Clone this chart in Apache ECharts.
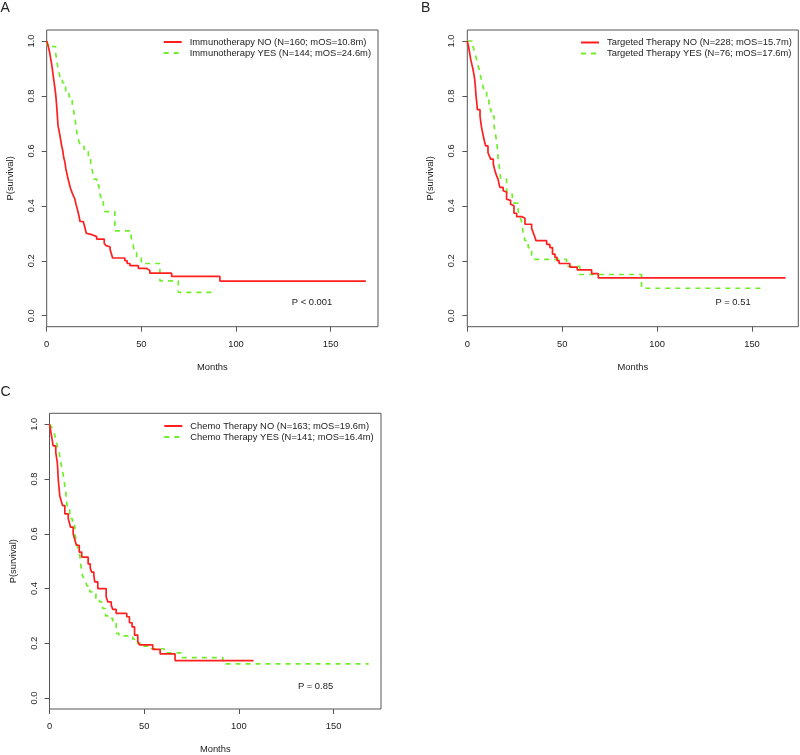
<!DOCTYPE html>
<html>
<head>
<meta charset="utf-8">
<script src="https://cdn.jsdelivr.net/npm/echarts@6/dist/echarts.min.js"></script>
<style>html,body{margin:0;padding:0;background:#fff}#c{width:800px;height:755px}</style>
</head>
<body>
<div id="c"></div>
<script>
// ---- Data (months, survival probability) ----
const immunoNo = [[0,1],[0.5,0.99],[1,0.975],[1.5,0.96],[2,0.94],[2.5,0.92],[3,0.897],[3.5,0.87],[4,0.845],[4.5,0.82],[4.9,0.795],[5.3,0.76],[5.7,0.72],[6,0.69],[6.5,0.675],[7,0.655],[7.5,0.635],[8,0.615],[8.5,0.6],[9,0.575],[9.6,0.56],[10.1,0.535],[10.6,0.52],[11.2,0.5],[11.8,0.485],[12.5,0.465],[13.4,0.448],[14.2,0.435],[14.9,0.424],[15.5,0.405],[16.2,0.388],[17,0.365],[17.6,0.343],[19.3,0.337],[20.2,0.32],[20.9,0.30],[21.4,0.294],[24.3,0.288],[26.4,0.279],[30.4,0.264],[31.2,0.256],[32,0.25],[33.5,0.24],[34.2,0.225],[34.8,0.21],[41.3,0.2],[42.5,0.19],[44,0.182],[48.4,0.172],[52.8,0.165],[54.5,0.155],[66,0.143],[91.5,0.126],[168.6,0.126]];
const immunoYes = [[0,1],[0.3,0.98],[4.7,0.957],[5.3,0.93],[6,0.897],[7,0.87],[8.3,0.848],[10,0.818],[11.8,0.797],[13.5,0.77],[14.4,0.74],[15.3,0.70],[16.2,0.655],[17,0.635],[17.9,0.618],[19.7,0.606],[22,0.58],[23.2,0.557],[24,0.53],[25,0.497],[26.5,0.475],[27.6,0.455],[28.6,0.43],[29.9,0.404],[30.8,0.379],[36,0.309],[44.6,0.285],[45.6,0.26],[46.4,0.23],[47.5,0.21],[50,0.19],[59.8,0.127],[69.5,0.085],[87.1,0.085]];
const targetNo = [[0,1],[0.5,0.985],[0.9,0.97],[1.4,0.95],[1.8,0.933],[2.4,0.915],[3,0.897],[3.5,0.878],[3.9,0.86],[4.3,0.83],[4.6,0.80],[5,0.775],[5.3,0.75],[6.7,0.727],[7,0.71],[7.4,0.69],[7.9,0.672],[8.4,0.655],[9,0.636],[9.7,0.618],[10.9,0.594],[11.6,0.582],[12.3,0.57],[13.7,0.552],[14.3,0.535],[14.9,0.52],[15.5,0.508],[16.2,0.497],[16.7,0.48],[17.2,0.467],[18.9,0.455],[19.8,0.45],[20.7,0.424],[21.6,0.42],[22.8,0.406],[23.4,0.40],[24.6,0.373],[26,0.361],[28.6,0.355],[30.4,0.333],[33.9,0.318],[34.7,0.303],[35.5,0.288],[36.2,0.273],[41.8,0.26],[43.5,0.248],[44.9,0.224],[46.2,0.212],[47.3,0.2],[48.4,0.19],[54,0.177],[57.9,0.167],[65.5,0.153],[69,0.138],[167.7,0.138]];
const targetYes = [[0,1],[2.6,0.985],[3.5,0.97],[4.2,0.95],[4.9,0.933],[5.5,0.915],[6.2,0.897],[6.8,0.878],[7.4,0.86],[8.1,0.84],[8.8,0.818],[10.2,0.788],[11.4,0.752],[12.5,0.727],[14.1,0.69],[15,0.655],[15.8,0.612],[16.3,0.57],[17,0.533],[17.6,0.497],[20.7,0.46],[21,0.443],[23.7,0.424],[24.4,0.41],[26.8,0.38],[27.6,0.365],[28.6,0.343],[29.5,0.30],[30.4,0.273],[32.1,0.248],[33.9,0.222],[34.7,0.205],[52.3,0.18],[59.3,0.15],[91.8,0.1],[155,0.1]];
const chemoNo = [[0,1],[0.5,0.98],[1.05,0.958],[1.5,0.94],[1.9,0.921],[3.3,0.897],[4.1,0.861],[4.4,0.83],[4.6,0.8],[5,0.77],[5.4,0.739],[6.2,0.72],[6.9,0.703],[8.1,0.673],[9.9,0.655],[10.5,0.64],[11.1,0.624],[12.5,0.6],[13.3,0.58],[14.2,0.558],[15.7,0.533],[17,0.515],[20.4,0.49],[21.5,0.475],[22.2,0.46],[23.4,0.448],[23.9,0.424],[25.5,0.4],[29.9,0.37],[30.8,0.351],[32.6,0.339],[33.4,0.324],[35.2,0.309],[40.8,0.297],[42.2,0.275],[43.6,0.26],[44.9,0.23],[46.6,0.206],[47.5,0.194],[54.5,0.178],[58.4,0.161],[66.3,0.137],[107.7,0.137]];
const chemoYes = [[0,1],[1.05,0.99],[1.9,0.982],[2.6,0.965],[3.3,0.945],[4.1,0.921],[5.1,0.897],[5.7,0.87],[6.3,0.848],[7,0.825],[7.6,0.8],[8.1,0.776],[8.6,0.752],[9,0.72],[9.5,0.691],[10.7,0.655],[12.1,0.63],[13.4,0.6],[14.2,0.57],[15.1,0.545],[16,0.521],[16.5,0.485],[17.4,0.448],[18.3,0.435],[19.2,0.424],[19.7,0.41],[21.3,0.388],[24.5,0.364],[26.4,0.351],[28.1,0.327],[29.6,0.3],[31.7,0.291],[33.4,0.273],[35.2,0.236],[36.6,0.227],[44,0.215],[46.6,0.2],[48.4,0.19],[53.7,0.18],[60.5,0.165],[69.5,0.148],[91.5,0.125],[168.5,0.125]];

const seriesNames = [
  'Immunotherapy NO (N=160; mOS=10.8m)', 'Immunotherapy YES (N=144; mOS=24.6m)',
  'Targeted Therapy NO (N=228; mOS=15.7m)', 'Targeted Therapy YES (N=76; mOS=17.6m)',
  'Chemo Therapy NO (N=163; mOS=19.6m)', 'Chemo Therapy YES (N=141; mOS=16.4m)'
];
const pValues = ['P < 0.001', 'P = 0.51', 'P = 0.85'];
const panelLetters = ['A', 'B', 'C'];
const xTicks = [0, 50, 100, 150];
const yTicks = [0, 0.2, 0.4, 0.6, 0.8, 1.0];
const xAxisTitle = 'Months';
const yAxisTitle = 'P(survival)';

// ---- Layout ----
const FONT = 'Liberation Sans, Arial, Helvetica, sans-serif';
const RED = '#FF1F1F', GREEN = '#6FEF2A', BOX = '#555';
const FS = 9.4;
const grids = [
  {left: 46.7, top: 30, width: 331.3, height: 296.7, xmax: 175},
  {left: 467.3, top: 30, width: 331, height: 296.7, xmax: 174.4},
  {left: 49.5, top: 413.3, width: 331.5, height: 296.7, xmax: 175}
];
const curves = [[immunoNo, immunoYes], [targetNo, targetYes], [chemoNo, chemoYes]];
const legendPos = [{left: 162.7, top: 37.5}, {left: 580, top: 38}, {left: 163.3, top: 421.5}];
const pPos = [[312, 302.7], [733, 302.7], [315.5, 686.7]];
const letterPos = [[0.5, 1.5], [421, 1.5], [0.5, 385.5]];

const option = {
  animation: false,
  backgroundColor: '#fff',
  textStyle: {fontFamily: FONT},
  grid: grids.map(g => ({left: g.left, top: g.top, width: g.width, height: g.height,
    show: true, borderColor: BOX, borderWidth: 1, backgroundColor: 'transparent', containLabel: false})),
  xAxis: grids.map((g, i) => ({
    type: 'value', gridIndex: i, min: 0, max: g.xmax,
    name: xAxisTitle, nameLocation: 'middle', nameGap: 36,
    nameTextStyle: {fontSize: FS, color: '#222', fontFamily: FONT},
    axisLine: {show: false, onZero: false},
    axisTick: {show: true, length: 5, lineStyle: {color: BOX}, customValues: xTicks},
    axisLabel: {fontSize: FS, color: '#222', margin: 13, fontFamily: FONT, customValues: xTicks, formatter: v => String(v)},
    splitLine: {show: false}
  })),
  yAxis: grids.map((g, i) => ({
    type: 'value', gridIndex: i, min: -0.04, max: 1.04,
    name: yAxisTitle, nameLocation: 'middle', nameGap: 32,
    nameTextStyle: {fontSize: FS, color: '#222', fontFamily: FONT},
    axisLine: {show: false, onZero: false},
    axisTick: {show: true, length: 5, lineStyle: {color: BOX}, customValues: yTicks},
    axisLabel: {fontSize: FS, color: '#222', margin: 11, rotate: 90, fontFamily: FONT, customValues: yTicks, formatter: v => v.toFixed(1)},
    splitLine: {show: false}
  })),
  legend: legendPos.map((p, i) => ({
    data: [seriesNames[2*i], seriesNames[2*i+1]],
    left: p.left, top: p.top, orient: 'vertical', padding: 0,
    itemWidth: 18, itemHeight: 9, itemGap: 2, selectedMode: false,
    itemStyle: {opacity: 0},
    textStyle: {fontSize: FS, color: '#222', fontFamily: FONT, padding: [0, 0, 0, 3]}
  })),
  series: [],
  graphic: []
};

curves.forEach((pair, i) => {
  pair.forEach((data, j) => {
    option.series.push({
      type: 'line', name: seriesNames[2*i+j], xAxisIndex: i, yAxisIndex: i,
      data: data, step: 'end', symbol: 'none', showSymbol: false,
      lineStyle: j === 0 ? {color: RED, width: 1.7} : {color: GREEN, width: 1.7, type: [5, 5]},
      itemStyle: {color: j === 0 ? RED : GREEN},
      z: j === 0 ? 3 : 2
    });
  });
  option.graphic.push({type: 'text', x: pPos[i][0], y: pPos[i][1],
    style: {text: pValues[i], font: FS + 'px ' + FONT, fill: '#222', align: 'center', verticalAlign: 'middle'}});
  option.graphic.push({type: 'text', left: letterPos[i][0], top: letterPos[i][1],
    style: {text: panelLetters[i], font: '14px ' + FONT, fill: '#222'}});
});

const chart = echarts.init(document.getElementById('c'), null, {renderer: 'canvas'});
chart.setOption(option);
</script>
</body>
</html>
